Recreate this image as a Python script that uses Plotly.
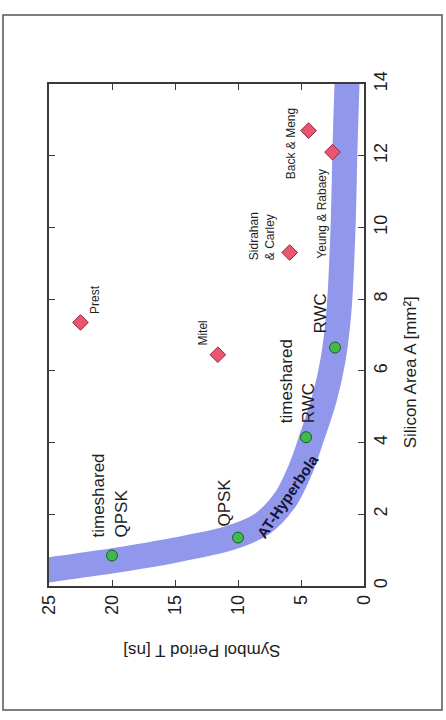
import plotly.graph_objects as go

# Symbol period T [ns] against silicon area A [mm²]
# Own designs (green circles)
own_names = ["timeshared<br>QPSK", "QPSK", "timeshared<br>RWC", "RWC"]
own_T = [20.0, 10.0, 4.6, 2.3]
own_A = [0.85, 1.35, 4.15, 6.65]

# Published designs (red diamonds)
pub_names = ["Prest", "Mitel", "Sidrahan<br>& Carley", "Back & Meng", "Yeung & Rabaey"]
pub_T = [22.5, 11.6, 5.9, 4.4, 2.5]
pub_A = [7.35, 6.45, 9.3, 12.7, 12.1]

# Centre line of the AT-hyperbola band
band_T = [26.5, 25.0, 20.0, 15.0, 10.63, 8.1, 6.27, 5.0, 4.13, 3.17, 2.46, 1.98, 1.67, 1.51, 1.35, 1.27]
band_A = [0.36, 0.45, 0.70, 1.00, 1.34, 1.73, 2.40, 3.29, 4.16, 5.19, 6.30, 7.70, 9.93, 12.16, 14.0, 14.67]

T_ticks = [0, 5, 10, 15, 20, 25]
A_ticks = [0, 2, 4, 6, 8, 10, 12, 14]

FONT = "Liberation Sans, Arial, sans-serif"
INK = "#1e1e1e"
AXIS = "#3a3a3a"

# pixel offsets of each label from its marker
own_label_shift = {
    "timeshared<br>QPSK": (-2, 60),
    "QPSK": (-13, 35),
    "timeshared<br>RWC": (-9, 56),
    "RWC": (-14, 34),
}
pub_label_shift = {
    "Prest": (15, 23),
    "Mitel": (-15, 22),
    "Sidrahan<br>& Carley": (-28, 16),
    "Back & Meng": (-18, -13),
    "Yeung & Rabaey": (-10, -62),
}

fig = go.Figure()

fig.add_trace(go.Scatter(
    x=band_T, y=band_A, mode="lines",
    line=dict(color="#9197ea", width=25, shape="spline", smoothing=0.9),
    hoverinfo="skip", showlegend=False,
))

fig.add_trace(go.Scatter(
    x=pub_T, y=pub_A, mode="markers",
    marker=dict(symbol="diamond", size=12, color="#ec5570",
                line=dict(color="#8a2a3a", width=1)),
    showlegend=False,
))

fig.add_trace(go.Scatter(
    x=own_T, y=own_A, mode="markers",
    marker=dict(symbol="circle", size=11, color="#3fba4c",
                line=dict(color="#1d5a25", width=1)),
    showlegend=False,
))

annotations = []
for name, t, a in zip(own_names, own_T, own_A):
    dx, dy = own_label_shift[name]
    annotations.append(dict(
        x=t, y=a, xref="x", yref="y", text=name, showarrow=False,
        textangle=-90, align="left", xanchor="center", yanchor="middle",
        xshift=dx, yshift=dy,
        font=dict(family=FONT, size=17, color=INK),
    ))
for name, t, a in zip(pub_names, pub_T, pub_A):
    dx, dy = pub_label_shift[name]
    annotations.append(dict(
        x=t, y=a, xref="x", yref="y", text=name, showarrow=False,
        textangle=-90, align="left", xanchor="center", yanchor="middle",
        xshift=dx, yshift=dy,
        font=dict(family=FONT, size=12, color=INK),
    ))

# label running along the band
annotations.append(dict(
    x=6.1, y=2.5, xref="x", yref="y", text="<b>AT-Hyperbola</b>",
    showarrow=False, textangle=-56, xanchor="center", yanchor="middle",
    font=dict(family=FONT, size=15, color="#15153a"),
))

# axis titles
annotations.append(dict(
    x=0.485, y=-0.127, xref="paper", yref="paper", text="Symbol Period T [ns]",
    showarrow=False, textangle=180, xanchor="center", yanchor="middle",
    font=dict(family=FONT, size=17, color=INK),
))
annotations.append(dict(
    x=1.148, y=0.425, xref="paper", yref="paper", text="Silicon Area A [mm²]",
    showarrow=False, textangle=-90, xanchor="center", yanchor="middle",
    font=dict(family=FONT, size=17, color=INK),
))

fig.update_layout(
    width=446, height=720,
    margin=dict(l=49, r=82, t=84, b=134),
    paper_bgcolor="white", plot_bgcolor="white",
    showlegend=False,
    annotations=annotations,
    shapes=[dict(
        type="rect", xref="paper", yref="paper",
        x0=-0.146, x1=1.2476, y0=-0.247, y1=1.1375,
        line=dict(color="#555555", width=1.5), fillcolor="rgba(0,0,0,0)",
        layer="below",
    )],
)

fig.update_xaxes(
    range=[25, 0], tickvals=T_ticks, ticktext=[str(v) for v in T_ticks],
    tickangle=-90, ticks="inside", ticklen=6, tickwidth=1.2, tickcolor=AXIS,
    showline=True, linecolor=AXIS, linewidth=1.5, mirror="ticks",
    showgrid=False, zeroline=False,
    tickfont=dict(family=FONT, size=18, color=INK),
)
fig.update_yaxes(
    range=[0, 14], tickvals=A_ticks, ticktext=[str(v) for v in A_ticks],
    side="right", tickangle=-90, ticks="inside", ticklen=6, tickwidth=1.2,
    tickcolor=AXIS, showline=True, linecolor=AXIS, linewidth=1.5,
    mirror="ticks", showgrid=False, zeroline=False,
    tickfont=dict(family=FONT, size=18, color=INK),
)

fig.write_html("out.html")
